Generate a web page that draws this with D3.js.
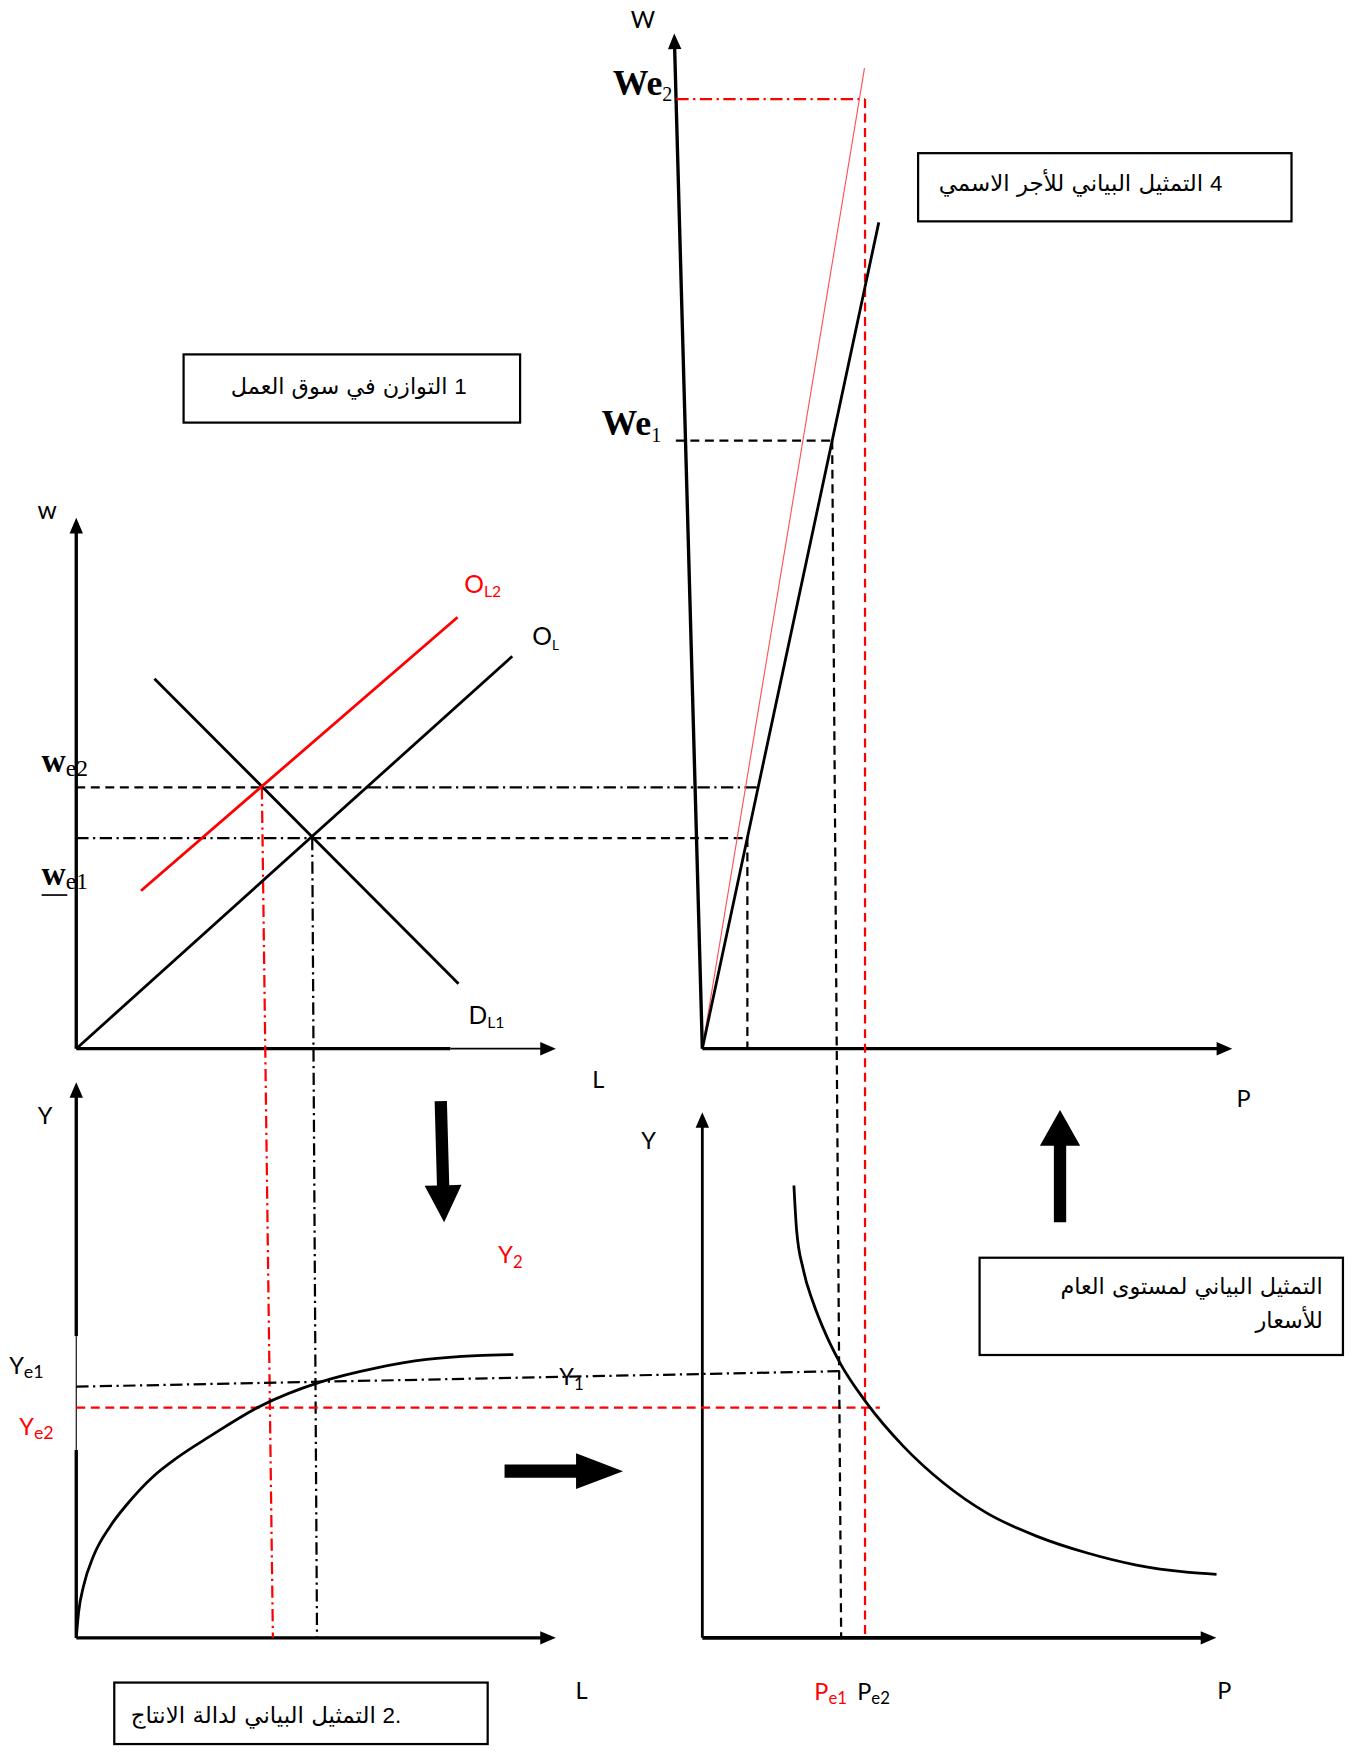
<!DOCTYPE html>
<html>
<head>
<meta charset="utf-8">
<script src="https://cdn.jsdelivr.net/npm/d3@7"></script>
<style>
  body { margin: 0; background: #fff; }
  svg { display: block; }
</style>
</head>
<body>
<div id="chart"></div>
<script>
// four quadrant diagram: labour market / production / price level / nominal wage

// axis domains (abstract units)
const labourDomain = [0, 10];
const wageDomain = [0, 20];
const outputDomain = [0, 10];
const priceDomain = [0, 10];

// levels
const wageLevels = {we1: 4.15, we2: 5.15, We1: 11.98, We2: 18.71};
const outputLevels = {ye2: 4.145, y1Left: 4.52, y1Right: 4.80};
const employment = {e1: 4.92, e2: 3.87, e1Bottom: 5.02, e2Bottom: 4.10, dashSwitch: 6.1};
const priceLevels = {low: 0.85, mid: 1.05, pe1Top: 2.45, pe1Bottom: 2.62, pe2: 3.07, ye2End: 3.35, y1End: 2.63};

// labour market lines [L, w]
const supplyOL = [[0, 0], [9.09, 7.73]];
const supplyOL2 = [[1.35, 3.11], [7.95, 8.50]];
const demandDL1 = [[1.63, 7.29], [7.97, 1.28]];

// production function
const prodL = [0, 0.047, 0.152, 0.359, 0.709, 1.056, 1.611, 2.098, 2.793, 3.834, 5.084, 6.266, 7.308, 8.350, 9.114];
const prodY = [0, 0.451, 0.932, 1.471, 2.010, 2.400, 2.909, 3.239, 3.630, 4.169, 4.602, 4.859, 5.010, 5.080, 5.099];

// price level curve
const adP = [1.728, 1.778, 1.905, 2.093, 2.346, 2.597, 3.099, 3.791, 4.546, 5.363, 6.306, 7.249, 8.192, 9.137, 9.703];
const adY = [8.141, 7.348, 6.628, 6.030, 5.429, 4.950, 4.229, 3.451, 2.791, 2.249, 1.831, 1.531, 1.310, 1.183, 1.143];

// nominal wage lines [P, W]
const wageW1 = [[0, 0], [3.33, 16.28]];
const wageW2 = [[0, 0], [3.06, 19.32]];

// box titles
const titles = {
  labour: "التوازن في سوق العمل",
  wage: "التمثيل البياني للأجر الاسمي",
  prod: "التمثيل البياني لدالة الانتاج",
  price1: "التمثيل البياني لمستوى العام",
  price2: "للأسعار"
};

const RED = "#ff0000";
const DASH = "8,5", DASHDOT = "11,4,2,4";
const W = 1208, H = 1568;

const svg = d3.select("#chart").append("svg")
  .attr("width", 1351).attr("height", 1753)
  .attr("viewBox", [0, 0, W, H])
  .attr("font-family", "Lato, 'Noto Sans', sans-serif");
svg.append("rect").attr("width", W).attr("height", H).attr("fill", "#fff");

const xs = {
  L: d3.scaleLinear().domain(labourDomain).range([68, 497]),
  P: d3.scaleLinear().domain(priceDomain).range([628, 1102])
};
const ys = {
  W: d3.scaleLinear().domain(wageDomain).range([938, 30]),
  Y: d3.scaleLinear().domain(outputDomain).range([1465, 968])
};
const pt = (sx, vx, sy, vy) => [xs[sx](vx), ys[sy](vy)];

// ---- axes with arrow heads
function arrowAxis(a, b, width = 3, head = [14, 12]) {
  const dx = b[0] - a[0], dy = b[1] - a[1];
  const len = Math.hypot(dx, dy), ux = dx / len, uy = dy / len;
  const base = [b[0] - ux * head[0], b[1] - uy * head[0]];
  svg.append("line")
    .attr("x1", a[0]).attr("y1", a[1]).attr("x2", base[0] + ux * 2).attr("y2", base[1] + uy * 2)
    .attr("stroke", "#000").attr("stroke-width", width);
  const hw = head[1] / 2;
  svg.append("path")
    .attr("d", `M${b[0]},${b[1]}L${base[0] - uy * hw},${base[1] + ux * hw}L${base[0] + uy * hw},${base[1] - ux * hw}Z`)
    .attr("fill", "#000");
}
function plainLine(a, b, width, color = "#000", dash = null) {
  svg.append("line")
    .attr("x1", a[0]).attr("y1", a[1]).attr("x2", b[0]).attr("y2", b[1])
    .attr("stroke", color).attr("stroke-width", width)
    .attr("stroke-dasharray", dash);
}

// panel 1 - labour market
arrowAxis(pt("L", 0, "W", 0), pt("L", 0, "W", 10.46));
plainLine(pt("L", 0, "W", 0), pt("L", 7.8, "W", 0), 3);
arrowAxis(pt("L", 7.8, "W", 0), pt("L", 10, "W", 0), 1.5);
// panel 4 - nominal wage (tilted W axis)
arrowAxis(pt("P", 0, "W", 0), pt("P", -0.53, "W", 20));
arrowAxis(pt("P", 0, "W", 0), pt("P", 10, "W", 0));
// panel 2 - production
arrowAxis(pt("L", 0, "Y", 5.43), pt("L", 0, "Y", 10));
plainLine(pt("L", 0, "Y", 5.43), pt("L", 0, "Y", 3.38), 1);
plainLine(pt("L", 0, "Y", 3.38), pt("L", 0, "Y", 0), 3);
arrowAxis(pt("L", 0, "Y", 0), pt("L", 10, "Y", 0));
// panel 3 - price level
arrowAxis(pt("P", 0, "Y", 0), pt("P", 0, "Y", 9.46), 2.5);
arrowAxis(pt("P", 0, "Y", 0), pt("P", 9.7, "Y", 0), 3.5);

// ---- guide lines
const {we1, we2, We1, We2} = wageLevels;
const {ye2, y1Left, y1Right} = outputLevels;
const guides = [
  {a: ["L", 0, "W", we2], b: ["L", employment.dashSwitch, "W", we2], dash: DASH},
  {a: ["L", employment.dashSwitch, "W", we2], b: ["P", priceLevels.mid, "W", we2], dash: DASHDOT},
  {a: ["L", 0, "W", we1], b: ["L", employment.e1, "W", we1], dash: DASHDOT},
  {a: ["L", employment.e1, "W", we1], b: ["P", priceLevels.low, "W", we1], dash: DASH},
  {a: ["P", priceLevels.low, "W", we1], b: ["P", priceLevels.low, "W", 0], dash: DASH},
  {a: ["L", employment.e2, "W", we2], b: ["L", employment.e2Bottom, "Y", 0], dash: DASHDOT, color: RED},
  {a: ["L", employment.e1, "W", we1], b: ["L", employment.e1Bottom, "Y", 0], dash: DASHDOT},
  {a: ["L", 0, "Y", y1Left], b: ["P", priceLevels.y1End, "Y", y1Right], dash: DASHDOT},
  {a: ["L", 0, "Y", ye2], b: ["P", priceLevels.ye2End, "Y", ye2], dash: DASH, color: RED},
  {a: ["P", -0.5, "W", We1], b: ["P", priceLevels.pe1Top, "W", We1], dash: DASH},
  {a: ["P", priceLevels.pe1Top, "W", We1], b: ["P", priceLevels.pe1Bottom, "Y", 0], dash: DASH},
  {a: ["P", -0.49, "W", We2], b: ["P", priceLevels.pe2, "W", We2], dash: DASHDOT, color: RED},
  {a: ["P", priceLevels.pe2, "W", We2], b: ["P", priceLevels.pe2, "Y", 0], dash: DASH, color: RED}
];
guides.forEach(g => plainLine(pt(...g.a), pt(...g.b), 2, g.color || "#000", g.dash));

// ---- curves
const lineLW = d3.line().x(d => xs.L(d[0])).y(d => ys.W(d[1]));
const linePW = d3.line().x(d => xs.P(d[0])).y(d => ys.W(d[1]));
svg.append("path").attr("d", lineLW(supplyOL)).attr("stroke", "#000").attr("stroke-width", 2.5).attr("fill", "none");
svg.append("path").attr("d", lineLW(demandDL1)).attr("stroke", "#000").attr("stroke-width", 2.5).attr("fill", "none");
svg.append("path").attr("d", lineLW(supplyOL2)).attr("stroke", RED).attr("stroke-width", 2.5).attr("fill", "none");
svg.append("path").attr("d", linePW(wageW2)).attr("stroke", "#ff5050").attr("stroke-width", 1).attr("fill", "none");
svg.append("path").attr("d", linePW(wageW1)).attr("stroke", "#000").attr("stroke-width", 2.5).attr("fill", "none");

const prodLine = d3.line().curve(d3.curveMonotoneX)
  .x((d, i) => xs.L(prodL[i])).y((d, i) => ys.Y(prodY[i]));
svg.append("path").attr("d", prodLine(prodL)).attr("stroke", "#000").attr("stroke-width", 2.5).attr("fill", "none");

const adLine = d3.line().curve(d3.curveMonotoneX)
  .x((d, i) => xs.P(adP[i])).y((d, i) => ys.Y(adY[i]));
svg.append("path").attr("d", adLine(adP)).attr("stroke", "#000").attr("stroke-width", 2.5).attr("fill", "none");

// ---- block arrows
function blockArrow(tail, tip, shaftW, headW, headLen) {
  const dx = tip[0] - tail[0], dy = tip[1] - tail[1];
  const len = Math.hypot(dx, dy), ux = dx / len, uy = dy / len;
  const nx = -uy, ny = ux;
  const base = [tip[0] - ux * headLen, tip[1] - uy * headLen];
  const p = [
    [tail[0] + nx * shaftW / 2, tail[1] + ny * shaftW / 2],
    [base[0] + nx * shaftW / 2, base[1] + ny * shaftW / 2],
    [base[0] + nx * headW / 2, base[1] + ny * headW / 2],
    tip,
    [base[0] - nx * headW / 2, base[1] - ny * headW / 2],
    [base[0] - nx * shaftW / 2, base[1] - ny * shaftW / 2],
    [tail[0] - nx * shaftW / 2, tail[1] - ny * shaftW / 2]
  ];
  svg.append("path").attr("d", "M" + p.join("L") + "Z").attr("fill", "#000");
}
blockArrow(pt("L", 7.6, "Y", 9.66), pt("L", 7.67, "Y", 7.48), 11, 33, 33);
blockArrow(pt("L", 8.93, "Y", 3.0), pt("L", 11.4, "Y", 3.0), 12, 32, 42);
blockArrow(pt("P", 6.75, "Y", 7.48), pt("P", 6.75, "Y", 9.5), 11, 36, 32);

// ---- labels
function label(x, y, main, sub, opt = {}) {
  const t = svg.append("text").attr("x", x).attr("y", y)
    .attr("fill", opt.color || "#000")
    .attr("font-size", opt.size || 21)
    .attr("text-anchor", opt.anchor || "start");
  if (opt.family) t.attr("font-family", opt.family);
  if (opt.weight) t.attr("font-weight", opt.weight);
  t.append("tspan").text(main);
  if (sub) t.append("tspan").attr("font-size", opt.subSize || 14).attr("dy", opt.subDy || 4)
    .attr("font-weight", opt.subWeight || "normal").text(sub);
  return t;
}
const serif = "'Liberation Serif', 'DejaVu Serif', serif";

// panel 1
label(xs.L(0) - 26, ys.W(10.46) + 1, "w", null, {anchor: "middle", size: 22});
label(xs.L(10) + 38, ys.W(0) + 35, "L", null, {anchor: "middle"});
label(xs.L(supplyOL2[1][0]) + 6, ys.W(supplyOL2[1][1]) - 22, "O", "L2", {color: RED, size: 22});
label(xs.L(supplyOL[1][0]) + 18, ys.W(supplyOL[1][1]) - 10, "O", "L", {size: 22, subSize: 12});
label(xs.L(demandDL1[1][0]) + 9, ys.W(demandDL1[1][1]) + 36, "D", "L1", {size: 22});
label(xs.L(0) - 31, ys.W(we2) - 14, "w", "e2", {family: serif, weight: "bold", size: 30, subSize: 21, subDy: 4});
label(xs.L(0) - 31, ys.W(we1) + 42, "w", "e1", {family: serif, weight: "bold", size: 30, subSize: 21, subDy: 4});
plainLine([xs.L(0) - 31, ys.W(we1) + 51], [xs.L(0) - 8, ys.W(we1) + 51], 1.5);

// panel 4
label(xs.P(-0.53) - 28, 25, "W", null, {anchor: "middle", size: 21});
label(xs.P(10) + 10, ys.W(0) + 52, "P", null, {anchor: "middle"});
label(xs.P(-0.49) - 57, ys.W(We2) - 4, "We", "2", {family: serif, weight: "bold", size: 32, subSize: 18, subDy: 6});
label(xs.P(-0.32) - 75, ys.W(We1) - 5, "We", "1", {family: serif, weight: "bold", size: 32, subSize: 18, subDy: 6});

// panel 2
label(xs.L(0) - 28, ys.Y(10) + 37, "Y", null, {anchor: "middle"});
label(xs.L(10) + 23, ys.Y(0) + 55, "L", null, {anchor: "middle"});
label(xs.L(0) - 60, ys.Y(y1Left) - 11, "Y", "e1", {size: 21, subSize: 16, subDy: 3});
label(xs.L(0) - 51, ys.Y(ye2) + 25, "Y", "e2", {color: RED, size: 21, subSize: 16, subDy: 3});
label(xs.L(8.8), ys.Y(6.74), "Y", "2", {color: RED, size: 21, subSize: 15, subDy: 4});
label(xs.L(10.07), ys.Y(4.55), "Y", "1", {size: 21, subSize: 15, subDy: 4});

// panel 3
label(xs.P(0) - 48, ys.Y(9.46) + 33, "Y", null, {anchor: "middle"});
label(xs.P(9.7) + 7, ys.Y(0) + 55, "P", null, {anchor: "middle"});
label(xs.P(priceLevels.pe1Bottom) - 24, ys.Y(0) + 56, "P", "e1", {color: RED, size: 21, subSize: 15, subDy: 3});
label(xs.P(priceLevels.pe2) - 7, ys.Y(0) + 56, "P", "e2", {size: 21, subSize: 15, subDy: 3});

// ---- text boxes
function box(x, y, w, h) {
  svg.append("rect").attr("x", x).attr("y", y).attr("width", w).attr("height", h)
    .attr("fill", "#fff").attr("stroke", "#000").attr("stroke-width", 2);
}
function arabic(x, y, txt, size = 20) {
  svg.append("text").attr("x", x).attr("y", y).attr("text-anchor", "end")
    .attr("font-family", "'DejaVu Sans', sans-serif").attr("font-size", size)
    .attr("fill", "#000").text(txt);
}
box(164, 317, 301, 61);
arabic(400, 352, titles.labour, 20);
label(406, 352, "1", null, {size: 20, family: "'Liberation Sans', sans-serif"});

box(821, 137, 334, 61);
arabic(1076, 171, titles.wage, 20.5);
label(1082, 171, "4", null, {size: 20, family: "'Liberation Sans', sans-serif"});

box(102, 1505, 334, 55);
arabic(336, 1541, titles.prod, 20.5);
label(342, 1541, "2.", null, {size: 20, family: "'Liberation Sans', sans-serif"});

box(876, 1125, 325, 87);
arabic(1183, 1157, titles.price1, 20);
arabic(1183, 1188, titles.price2, 20);
</script>
</body>
</html>
